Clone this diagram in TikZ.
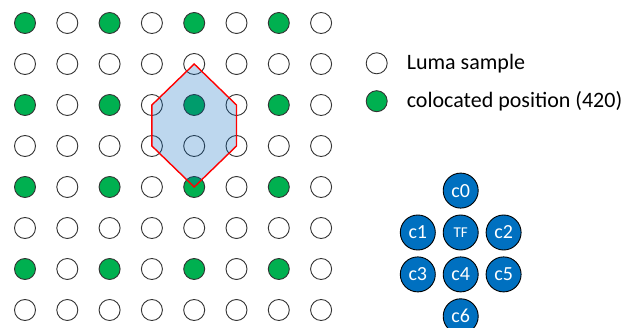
\documentclass[tikz,border=0pt]{standalone}
\usepackage{fontspec}
\setmainfont{Carlito}
\usepackage{xcolor}
\usetikzlibrary{positioning}
\definecolor{cgreen}{RGB}{0,176,80}
\definecolor{cblue}{RGB}{0,112,192}
\definecolor{chex}{RGB}{0,101,190}

\begin{document}
\begin{tikzpicture}[x=1pt, y=-1pt,
      luma/.style={circle, draw=black!80, line width=0.9pt, fill=white, minimum size=21pt, inner sep=0pt},
      coloc/.style={luma, fill=cgreen},
      kern/.style={circle, draw=black, line width=0.9pt, fill=cblue, text=white, minimum size=35pt, inner sep=0pt, font=\fontsize{20}{21}\selectfont},
      lbl/.style={anchor=west, inner sep=0pt, font=\fontsize{22}{24}\selectfont},
    ]
    \useasboundingbox (0,0) rectangle (632,328);
    % Sample grid
    \foreach \r in {0,...,7}{
      \foreach \c in {0,...,7}{
        \pgfmathtruncatemacro{\even}{mod(\r,2)==0 && mod(\c,2)==0}
        \ifnum\even=1
          \node[coloc] (s-\c-\r) at ({25+42.3*\c},{23+41*\r}) {};
        \else
          \node[luma] (s-\c-\r) at ({25+42.3*\c},{23+41*\r}) {};
        \fi
      }
    }

    % Filter support
    \draw[red, line width=1.4pt, fill=chex, fill opacity=0.26]
      (s-4-1.center) -- (s-5-2.center) -- (s-5-3.center) -- (s-4-4.center)
      -- (s-3-3.center) -- (s-3-2.center) -- cycle;

    % Legend
    \node[luma] (legL) at (376.7,63.3) {};
    \node[coloc, below=16pt of legL] (legC) {};
    \node[lbl, right=19pt of legL] (txtL) {Luma sample};
    \node[lbl, right=19pt of legC] (txtC) {colocated position (420)};

    % Kernel taps
    \node[kern] (tf) at (460.7,232.5) {\fontsize{15}{16}\selectfont TF};
    \node[kern, above=6pt of tf] (c0) {c0};
    \node[kern, left=7pt of tf] (c1) {c1};
    \node[kern, right=7pt of tf] (c2) {c2};
    \node[kern, below=6pt of tf] (c4) {c4};
    \node[kern, left=7pt of c4] (c3) {c3};
    \node[kern, right=7pt of c4] (c5) {c5};
    \node[kern, below=6pt of c4] (c6) {c6};
  \end{tikzpicture}
\end{document}
